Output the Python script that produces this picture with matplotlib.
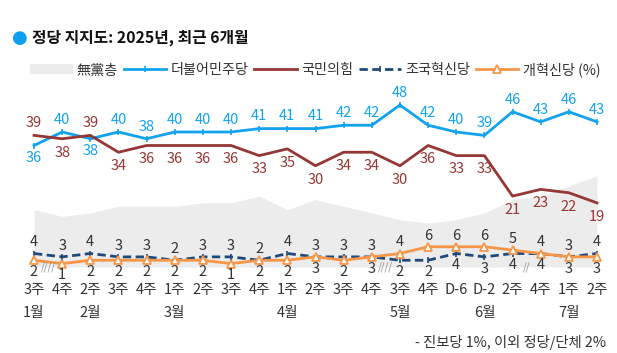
import matplotlib
matplotlib.use('Agg')
import matplotlib.pyplot as plt
import numpy as np
from matplotlib.patches import Patch
from matplotlib.lines import Line2D

plt.rcParams['font.family'] = ['Noto Sans CJK KR', 'DejaVu Sans']

# ── data ──
weeks = ['3주', '4주', '2주', '3주', '4주', '1주', '2주', '3주', '4주', '1주', '2주',
         '3주', '4주', '3주', '4주', 'D-6', 'D-2', '2주', '4주', '1주', '2주']
months = ['1월', '2월', '3월', '4월', '5월', '6월', '7월']
month_at = [0, 2, 5, 9, 13, 16, 19]          # index of week under which month is written
breaks = [(0, 1, '////'), (12, 13, '////'), (17, 18, '//')]

muddang = [17, 15, 16, 18, 18, 18, 19, 19, 21, 17, 20, 18, 16, 14, 13, 14, 16, 20, 21, 24, 27]
minju = [36, 40, 38, 40, 38, 40, 40, 40, 41, 41, 41, 42, 42, 48, 42, 40, 39, 46, 43, 46, 43]
ppp = [39, 38, 39, 34, 36, 36, 36, 36, 33, 35, 30, 34, 34, 30, 36, 33, 33, 21, 23, 22, 19]
cho = [4, 3, 4, 3, 3, 2, 3, 3, 2, 4, 3, 3, 3, 2, 2, 4, 3, 4, 4, 3, 4]
gaehyuk = [2, 1, 2, 2, 2, 2, 2, 1, 2, 2, 3, 2, 3, 4, 6, 6, 6, 5, 4, 3, 3]

C_GRAY = '#ececec'
C_BLUE = '#12a2ee'
C_RED = '#953735'
C_NAVY = '#1f497d'
C_ORANGE = '#f79646'
C_TEXT = '#333333'

W, H = 617, 353
fig = plt.figure(figsize=(W / 100, H / 100), dpi=100)
ax = fig.add_axes([0, 0, 1, 1])
ax.axis('off')

x = np.arange(len(weeks))
# pixel mapping: index 0 -> 34px, spacing 28.15px; value 0 -> 267px, 3.375 px per point
px_x, px_y = 28.15, 3.375
ax.set_xlim(-34 / px_x, (W - 34) / px_x)
ax.set_ylim(-(H - 267) / px_y, 267 / px_y)

ax.fill_between(x, 0, muddang, color=C_GRAY, lw=0, zorder=1)
ax.plot(x, minju, color=C_BLUE, lw=2.0, marker='|', ms=5, mew=1.2, zorder=4)
ax.plot(x, ppp, color=C_RED, lw=2.0, zorder=4)
ax.plot(x, cho, color=C_NAVY, lw=2.0, ls=(0, (3, 1.6)), marker='|', ms=4, mew=1.2, zorder=3)
ax.plot(x, gaehyuk, color=C_ORANGE, lw=2.0, marker='^', ms=5.5, mfc='white',
        mec=C_ORANGE, mew=1.3, zorder=3)

fs = 10.5
dy = 3.6  # label offset (value units)
for i in x:
    a, b = minju[i], ppp[i]
    ax.text(i, a + dy if a > b else a - dy, str(a), color=C_BLUE, fontsize=fs,
            ha='center', va='center')
    ax.text(i, b - dy - 0.5 if a > b else b + dy, str(b), color=C_RED, fontsize=fs,
            ha='center', va='center')
    c, g = cho[i], gaehyuk[i]
    hi, lo = (c, g) if c >= g else (g, c)
    ax.text(i, hi + dy - 0.3, str(hi), color=C_TEXT, fontsize=fs, ha='center', va='center')
    ax.text(i, lo - dy + 0.1, str(lo), color=C_TEXT, fontsize=fs, ha='center', va='center')

# x labels
for i, w in enumerate(weeks):
    ax.text(i, -6.8, w, color=C_TEXT, fontsize=fs, ha='center', va='center')
for m, i in zip(months, month_at):
    ax.text(i, -13.5, m, color=C_TEXT, fontsize=fs, ha='center', va='center')
for a, b, s in breaks:
    ax.text((a + b) / 2, 0.1, s, color='#888888', fontsize=7, ha='center', va='center')

# title
fig.text(20 / W, 1 - 38 / H, '\u25cf', color='#0aa0ee', fontsize=13, ha='center', va='center',
         family=['DejaVu Sans'])
fig.text(32 / W, 1 - 38 / H, '정당 지지도: 2025년, 최근 6개월', fontsize=11.4,
         fontweight='bold', color='#111111', ha='left', va='center')

handles = [
    Patch(facecolor=C_GRAY, edgecolor='none'),
    Line2D([], [], color=C_BLUE, lw=2.0, marker='|', ms=5, mew=1.2),
    Line2D([], [], color=C_RED, lw=2.0),
    Line2D([], [], color=C_NAVY, lw=2.0, ls=(0, (3, 1.6)), marker='|', ms=4, mew=1.2),
    Line2D([], [], color=C_ORANGE, lw=2.0, marker='^', ms=5.5, mfc='white', mec=C_ORANGE, mew=1.3),
]
labels = ['無黨층', '더불어민주당', '국민의힘', '조국혁신당', '개혁신당 (%)']
fig.legend(handles, labels, loc='center left', bbox_to_anchor=(30 / W, 1 - 70 / H),
           ncol=5, frameon=False, fontsize=10.2, handlelength=3.0, handletextpad=0.3,
           columnspacing=0.4, borderaxespad=0, borderpad=0, labelcolor=C_TEXT)

fig.text(606 / W, 1 - 343 / H, '- 진보당 1%, 이외 정당/단체 2%', fontsize=10.3, color=C_TEXT,
         ha='right', va='center')

fig.savefig('out.png', dpi=100)
